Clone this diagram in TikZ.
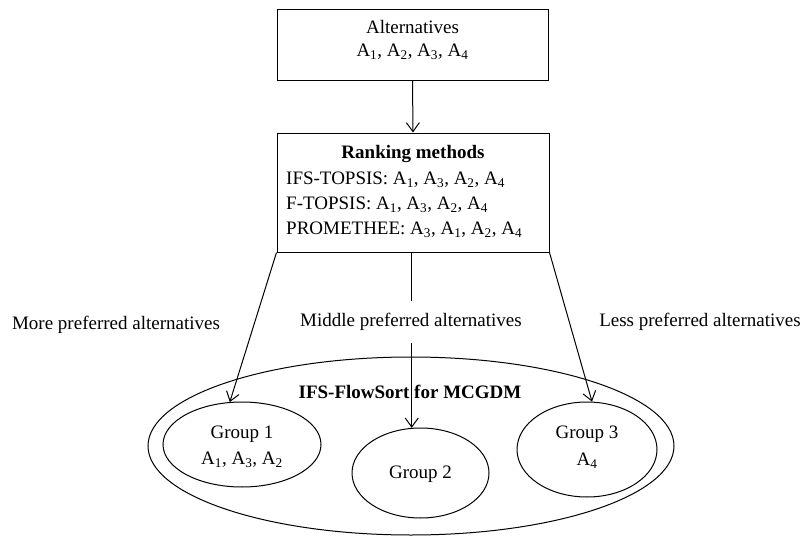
\documentclass[tikz,border=0pt]{standalone}
\usepackage{fontspec}
\setmainfont{Liberation Serif}
\usetikzlibrary{arrows.meta,shapes.geometric}
\begin{document}
\begin{tikzpicture}[x=1pt,y=-1pt,
  every node/.style={font=\fontsize{19}{23}\selectfont, inner sep=0pt},
  box/.style={draw, line width=1pt, rectangle},
  oval/.style={draw, line width=1pt, ellipse},
  arr/.style={line width=1pt, -{Straight Barb[length=9pt,width=13pt,line width=1pt]}},
  lab/.style={fill=white, inner xsep=4pt, inner ysep=12pt},
  bold/.style={font=\fontsize{19}{23}\selectfont\bfseries}]
\useasboundingbox (0,0) rectangle (807,538);
% boxes
\node[box, minimum width=271pt, minimum height=71pt] (alt) at (412.5,44.5) {};
\node (altT) at (412.5,27) {Alternatives};
\node (altL) at (412.5,52) {A\textsubscript{1}, A\textsubscript{2}, A\textsubscript{3}, A\textsubscript{4}};
\node[box, minimum width=272pt, minimum height=119pt] (rank) at (413,192.5) {};
\node[bold] (rankT) at (413,154) {Ranking methods};
\node[anchor=west] (r1) at (286,180) {IFS-TOPSIS: A\textsubscript{1}, A\textsubscript{3}, A\textsubscript{2}, A\textsubscript{4}};
\node[anchor=west] (r2) at (286,205) {F-TOPSIS: A\textsubscript{1}, A\textsubscript{3}, A\textsubscript{2}, A\textsubscript{4}};
\node[anchor=west] (r3) at (286,230) {PROMETHEE: A\textsubscript{3}, A\textsubscript{1}, A\textsubscript{2}, A\textsubscript{4}};
% ellipses
\node[oval, minimum width=526pt, minimum height=178pt] (big) at (411,446) {};
\node[bold] (bigT) at (410,392) {IFS-FlowSort for MCGDM};
\node[oval, minimum width=158pt, minimum height=85pt] (g1) at (242,444.5) {};
\node (g1a) at (242,434) {Group 1};
\node (g1b) at (242,460) {A\textsubscript{1}, A\textsubscript{3}, A\textsubscript{2}};
\node[oval, minimum width=137pt, minimum height=90pt] (g2) at (420.5,473) {};
\node (g2a) at (420.5,474) {Group 2};
\node[oval, minimum width=140pt, minimum height=95pt] (g3) at (587,449.5) {};
\node (g3a) at (587,434) {Group 3};
\node (g3b) at (587,461) {A\textsubscript{4}};
% connectors
\draw[arr] (alt.south) -- (rank.north);
\draw[arr] (rank.south west) -- (g1.106);
\draw[arr] (rank.south west -| g2.101) -- (g2.101);
\draw[arr] (rank.south east) -- (g3.84);
% labels
\node[lab] (midL) at (411,322) {Middle preferred alternatives};
\node (moreL) at (116,325) {More preferred alternatives};
\node (lessL) at (700,322) {Less preferred alternatives};
\end{tikzpicture}
\end{document}
